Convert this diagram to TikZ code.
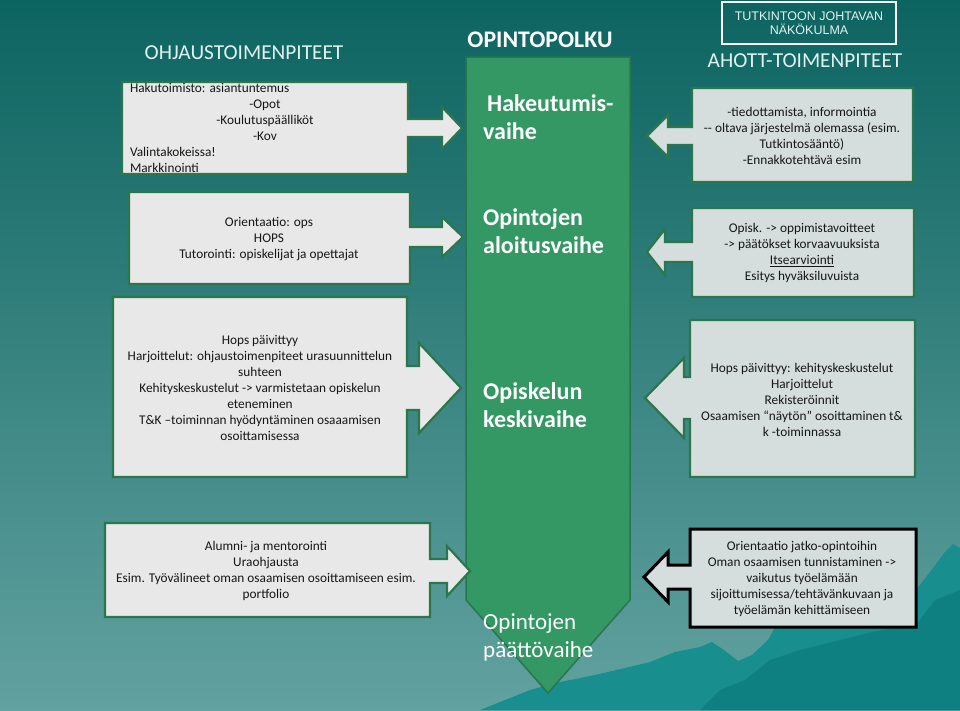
\documentclass[tikz,border=0pt]{standalone}
\usepackage{fontspec}
\setmainfont{Carlito}
\newfontfamily\boxfont{Liberation Sans}
\usetikzlibrary{calc}
\definecolor{bgtop}{RGB}{12,100,96}
\definecolor{bgmid}{RGB}{48,126,124}
\definecolor{bgbot}{RGB}{98,162,160}
\definecolor{mount}{RGB}{24,142,142}
\definecolor{mountdark}{RGB}{14,128,130}
\definecolor{phasefill}{RGB}{52,152,100}
\definecolor{phaseline}{RGB}{40,118,78}
\definecolor{boxline}{RGB}{44,118,78}
\definecolor{boxfill}{RGB}{232,232,232}
\definecolor{rboxfill}{RGB}{214,221,221}
\definecolor{textdark}{RGB}{22,22,22}
\definecolor{headlight}{RGB}{226,242,240}
% callout with arrow to the right: (L,R,T,B)(Y,s,h)(H,X)
\def\rcallout(#1,#2,#3,#4)(#5,#6,#7)(#8,#9){\draw[callbox] (#1,#3) -- (#2,#3) -- (#2,#5-#6) -- (#8,#5-#6) -- (#8,#5-#7) -- (#9,#5) -- (#8,#5+#7) -- (#8,#5+#6) -- (#2,#5+#6) -- (#2,#4) -- (#1,#4) -- cycle;}
% callout with arrow to the left
\def\lcallout(#1,#2,#3,#4)(#5,#6,#7)(#8,#9){\draw[callbox] (#1,#3) -- (#2,#3) -- (#2,#4) -- (#1,#4) -- (#1,#5+#6) -- (#8,#5+#6) -- (#8,#5+#7) -- (#9,#5) -- (#8,#5-#7) -- (#8,#5-#6) -- (#1,#5-#6) -- cycle;}
\tikzset{
	callbox/.style={draw=boxline, line width=2.2pt, fill=boxfill},
	calltext/.style={text=textdark, font=\fontsize{13.3}{16}\selectfont, align=center},
	phasetext/.style={text=white, font=\fontsize{24}{28}\selectfont\bfseries, align=left, anchor=base west, inner sep=0pt},
	headtext/.style={text=headlight, font=\fontsize{21.3}{24}\selectfont},
}
\begin{document}
\begin{tikzpicture}[x=1pt, y=-1pt]
			%%%%% START %%%%%
			\useasboundingbox (0,0) rectangle (960,710);
			\shade[top color=bgtop, middle color=bgmid, bottom color=bgbot] (0,0) rectangle (960,710);
			
			% mountains
			\fill[mount] (480,710) -- (505,700) -- (530,690) -- (560,682) -- (595,675) -- (625,668) -- (650,662) -- (675,652) -- (700,647) -- (712,642) -- (724,650) -- (738,661) -- (752,655) -- (768,640) -- (790,600) -- (820,585) -- (870,575) -- (916,590) -- (930,572) -- (945,552) -- (953,544) -- (960,548) -- (960,710) -- cycle;
			\fill[mountdark] (700,710) -- (720,690) -- (745,680) -- (770,660) -- (800,650) -- (840,640) -- (880,630) -- (916,625) -- (935,600) -- (960,590) -- (960,710) -- cycle;
			
			% headings
			\node[headtext] (ohjaus) at (244,53) {OHJAUSTOIMENPITEET};
			\node[text=white, font=\fontsize{23.8}{26}\selectfont\bfseries] (polku) at (540,40) {OPINTOPOLKU};
			\node[headtext] (ahott) at (805,61) {AHOTT-TOIMENPITEET};
			\draw[white, line width=1.3pt] (722,2) rectangle (896,44);
			\node[text=headlight, font=\boxfont\fontsize{12.5}{14.5}\selectfont, align=center] (nakokulma) at (809,23) {TUTKINTOON JOHTAVAN\\NÄKÖKULMA};
			
			% opintopolku
			\draw[fill=phasefill, draw=phaseline, line width=1.5pt] (466,57) -- (630,57) -- (630,600) -- (548,693) -- (466,600) -- cycle;
			\node[phasetext] (hakeutumis) at (483,139) {\hspace{4pt}Hakeutumis-\\vaihe};
			\node[phasetext] (aloitus) at (483,253) {Opintojen\\aloitusvaihe};
			\node[phasetext] (keski) at (483,427) {Opiskelun\\keskivaihe};
			\node[phasetext, font=\fontsize{23}{28}\selectfont] (paatto) at (483,657) {Opintojen\\päättövaihe};
			
			% ohjaustoimenpiteet
			\rcallout(122,408,82,174)(128,9,21)(442,462)
			\rcallout(129,410,192,284)(237,10,20)(442,463)
			\rcallout(113,407,297,477)(388,22,45)(419,461)
			\rcallout(105,430,523,617)(571,12,25)(447,470)
			
			\node[calltext, align=left] (hakutxt) at (265,128) {\makebox[270pt][l]{Hakutoimisto: asiantuntemus}\\\makebox[270pt]{-Opot}\\\makebox[270pt]{-Koulutuspäälliköt}\\\makebox[270pt]{-Kov}\\Valintakokeissa!\\Markkinointi};
			\node[calltext] (orienttxt) at (269,239) {Orientaatio: ops\\HOPS\\Tutorointi: opiskelijat ja opettajat};
			\node[calltext] (hopstxt) at (260,388) {Hops päivittyy\\Harjoittelut: ohjaustoimenpiteet urasuunnittelun\\suhteen\\Kehityskeskustelut -> varmistetaan opiskelun\\eteneminen\\T\&K –toiminnan hyödyntäminen osaaamisen\\osoittamisessa};
			\node[calltext] (alumnitxt) at (266,571) {Alumni- ja mentorointi\\Uraohjausta\\Esim. Työvälineet oman osaamisen osoittamiseen esim.\\portfolio};
			
			% ahott-toimenpiteet
			\begin{scope}[callbox/.append style={fill=rboxfill}]
			\lcallout(692,913,88,182)(136,9,21)(668,647)
			\lcallout(692,914,208,297)(252,10,23)(665,647)
			\lcallout(690,915,320,477)(398,21,40)(684,645)
			\end{scope}
			\begin{scope}[callbox/.append style={fill=rboxfill, draw=black, line width=3pt}]
			\lcallout(690,916,529,627)(577,12,25)(668,644)
			\end{scope}
			
			\node[calltext] (tiedotxt) at (802,136) {-tiedottamista, informointia\\{-}{-} oltava järjestelmä olemassa (esim.\\Tutkintosääntö)\\-Ennakkotehtävä esim};
			\node[calltext] (opisktxt) at (802,253) {Opisk. -> oppimistavoitteet\\-> päätökset korvaavuuksista\\\underline{Itsearviointi}\\Esitys hyväksiluvuista};
			\node[calltext] (rekistxt) at (802,400) {Hops päivittyy: kehityskeskustelut\\Harjoittelut\\Rekisteröinnit\\Osaamisen “näytön” osoittaminen t\&\\k -toiminnassa};
			\node[calltext] (jatkotxt) at (802,579) {Orientaatio jatko-opintoihin\\Oman osaamisen tunnistaminen ->\\vaikutus työelämään\\sijoittumisessa/tehtävänkuvaan ja\\työelämän kehittämiseen};
			
			%%%%% END %%%%%
\end{tikzpicture}
\end{document}
